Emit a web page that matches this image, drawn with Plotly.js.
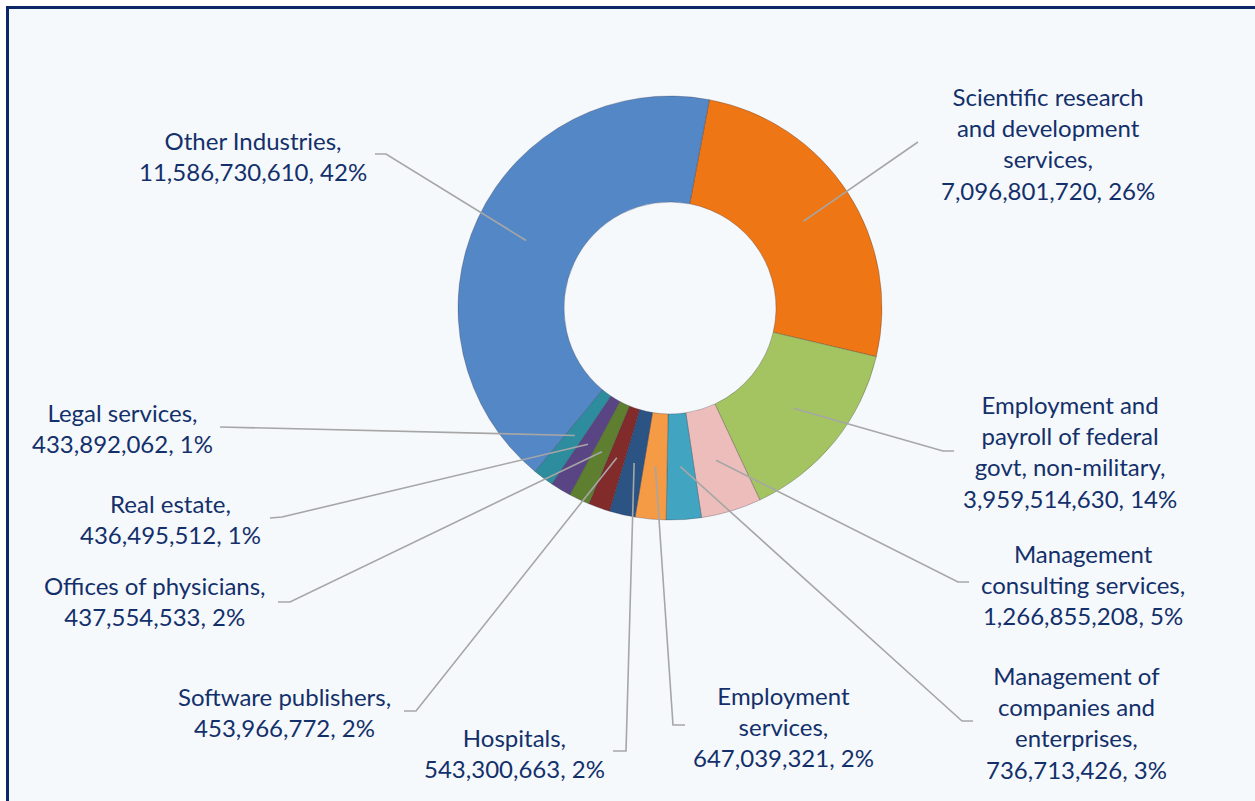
<!DOCTYPE html>
<html>
<head>
<meta charset="utf-8">
<script src="https://cdn.plot.ly/plotly-3.0.1.min.js"></script>
<style>
html,body{margin:0;padding:0;background:#ffffff;}
#chart{width:1255px;height:801px;}
</style>
</head>
<body>
<div id="chart"></div>
<script>
// ---- Data ----
const categories = [
  "Scientific research and development services",
  "Employment and payroll of federal govt, non-military",
  "Management consulting services",
  "Management of companies and enterprises",
  "Employment services",
  "Hospitals",
  "Software publishers",
  "Offices of physicians",
  "Real estate",
  "Legal services",
  "Other Industries"
];
const values = [
  7096801720, 3959514630, 1266855208, 736713426, 647039321,
  543300663, 453966772, 437554533, 436495512, 433892062, 11586730610
];
const percentLabels = ["26%", "14%", "5%", "3%", "2%", "2%", "2%", "2%", "1%", "1%", "42%"];
const wrappedNames = [
  "Scientific research<br>and development<br>services,",
  "Employment and<br>payroll of federal<br>govt, non-military,",
  "Management<br>consulting services,",
  "Management of<br>companies and<br>enterprises,",
  "Employment<br>services,",
  "Hospitals,",
  "Software publishers,",
  "Offices of physicians,",
  "Real estate,",
  "Legal services,",
  "Other Industries,"
];
const colors = [
  "#EE7614", "#A4C462", "#EDBDBB", "#41A5C1", "#F59A45",
  "#2B5384", "#822B2B", "#5F7F30", "#5A4584", "#2E8C9F", "#5487C6"
];

// ---- Layout geometry (pixels) ----
const W = 1255, H = 801;
const CX = 670, CY = 308, R = 212, HOLE = 0.5, ROTATION = 10.7;
// label block centres
const labelPos = [
  [1048, 143], [1070, 451], [1083, 584], [1076, 722], [783, 726],
  [514, 753], [284, 712], [155, 601], [170, 519], [122, 428], [253, 156]
];
// leader line: elbow point and end point near label
const leaderPts = [
  [918, 142, 918, 142], [943, 451, 954, 451], [958, 582, 969, 582], [962, 721, 973, 721],
  [673, 725, 685, 725], [626, 751, 613, 751], [416, 711, 404, 711], [290, 602, 278, 602],
  [282, 517, 270, 518], [220, 427, 220, 427], [386, 154, 375, 154]
];

const px = x => x / W;
const py = y => 1 - y / H;

const total = values.reduce((a, b) => a + b, 0);
const rMid = R * (1 + HOLE) / 2;

const shapes = [{
  type: 'rect', xref: 'paper', yref: 'paper', layer: 'below',
  x0: px(7.5), x1: 1.02, y0: -0.02, y1: py(7.5),
  line: {color: '#0C2767', width: 3}, fillcolor: '#F6F9FC'
}];
const annotations = [];
let cum = 0;
values.forEach((v, i) => {
  const mid = (ROTATION + 360 * (cum + v / 2) / total) * Math.PI / 180;
  cum += v;
  const sx = CX + rMid * Math.sin(mid);
  const sy = CY - rMid * Math.cos(mid);
  const [ex, ey, tx, ty] = leaderPts[i];
  shapes.push({
    type: 'path', xref: 'paper', yref: 'paper', layer: 'above',
    path: `M ${px(sx)} ${py(sy)} L ${px(ex)} ${py(ey)} L ${px(tx)} ${py(ty)}`,
    line: {color: '#A6A6A6', width: 1.6}
  });
  annotations.push({
    xref: 'paper', yref: 'paper', x: px(labelPos[i][0]), y: py(labelPos[i][1]),
    xanchor: 'center', yanchor: 'middle', align: 'center', showarrow: false,
    text: wrappedNames[i] + '<br>' + v.toLocaleString('en-US') + ', ' + percentLabels[i],
    font: {family: 'Lato, "Open Sans", sans-serif', size: 24, color: '#13306B'}
  });
});

const trace = {
  type: 'pie',
  labels: categories,
  values: values,
  hole: HOLE,
  sort: false,
  direction: 'clockwise',
  rotation: ROTATION,
  textinfo: 'none',
  hoverinfo: 'label+value+percent',
  marker: {colors: colors, line: {color: 'rgba(40,40,60,0.35)', width: 0.8}},
  domain: {x: [px(CX - R), px(CX + R)], y: [py(CY + R), py(CY - R)]},
  showlegend: false
};

const layout = {
  width: W, height: H,
  margin: {l: 0, r: 0, t: 0, b: 0},
  paper_bgcolor: '#ffffff',
  showlegend: false,
  shapes: shapes,
  annotations: annotations
};

Plotly.newPlot('chart', [trace], layout, {displayModeBar: false, staticPlot: true});
</script>
</body>
</html>
